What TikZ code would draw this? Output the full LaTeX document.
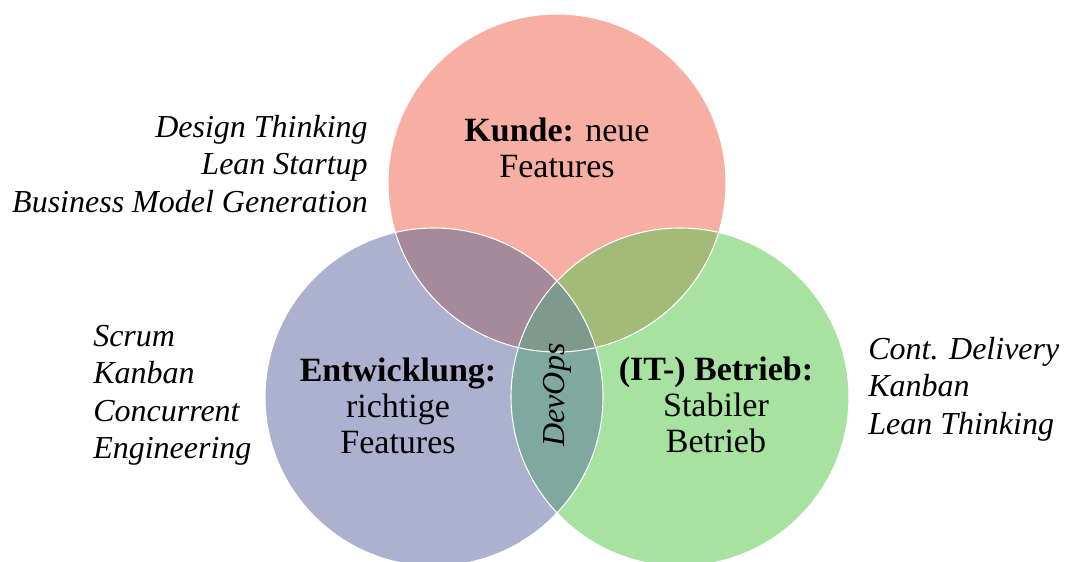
\documentclass[tikz,border=0pt]{standalone}
\usepackage{fontspec}
\setmainfont{Liberation Serif}
\definecolor{kundefill}{HTML}{F7AFA3}
\definecolor{entwfill}{HTML}{ABB1CE}
\definecolor{betrfill}{HTML}{A7E2A1}
\definecolor{kefill}{HTML}{A68A9C}
\definecolor{kbfill}{HTML}{A3BA78}
\definecolor{ebfill}{HTML}{7FA99F}
\definecolor{allfill}{HTML}{7E998E}
\tikzset{
  ring/.style={draw=white, line width=0.8pt},
  mainlabel/.style={inner sep=0pt, align=center,
    font=\fontsize{25.5}{27}\selectfont},
  methods/.style={inner sep=0pt,
    font=\fontsize{24}{28}\selectfont\itshape},
}
\begin{document}
\begin{tikzpicture}[x=0.75pt, y=-0.75pt]
\useasboundingbox (0,0) rectangle (1067,561);
\def\R{169}
\coordinate (cK) at (557,183);
\coordinate (cE) at (434,397);
\coordinate (cB) at (680,397);

% base discs
\fill[kundefill] (cK) circle[radius=\R];
\fill[entwfill] (cE) circle[radius=\R];
\fill[betrfill] (cB) circle[radius=\R];

% pairwise overlaps
\begin{scope}
  \clip (cE) circle[radius=\R];
  \fill[ebfill] (cB) circle[radius=\R];
\end{scope}
\begin{scope}
  \clip (cK) circle[radius=\R];
  \fill[kefill] (cE) circle[radius=\R];
  \fill[kbfill] (cB) circle[radius=\R];
  % centre of all three
  \clip (cE) circle[radius=\R];
  \fill[allfill] (cB) circle[radius=\R];
\end{scope}

% thin white rims
\draw[ring] (cK) circle[radius=\R];
\draw[ring] (cE) circle[radius=\R];
\draw[ring] (cB) circle[radius=\R];

% circle labels
\node[mainlabel, anchor=north] (kunde) at (557,118)
  {\textbf{Kunde:} neue\\Features};
\node[mainlabel, anchor=north] (entw) at (398,358)
  {\textbf{Entwicklung:}\\richtige\\Features};
\node[mainlabel, anchor=north] (betr) at (716,357)
  {\textbf{(IT-) Betrieb:}\\Stabiler\\Betrieb};
\node[methods, rotate=90] (devops) at (557,395) {DevOps};

% methods beside each circle
\node[methods, align=right, anchor=north east] (kmeth) at (368,115)
  {Design Thinking\\Lean Startup\\Business Model Generation};
\node[methods, align=left, anchor=north west] (emeth) at (93,325)
  {Scrum\\Kanban\\Concurrent\\Engineering};
\node[methods, align=left, anchor=north west] (bmeth) at (868,337)
  {Cont. Delivery\\Kanban\\Lean Thinking};
\end{tikzpicture}
\end{document}
